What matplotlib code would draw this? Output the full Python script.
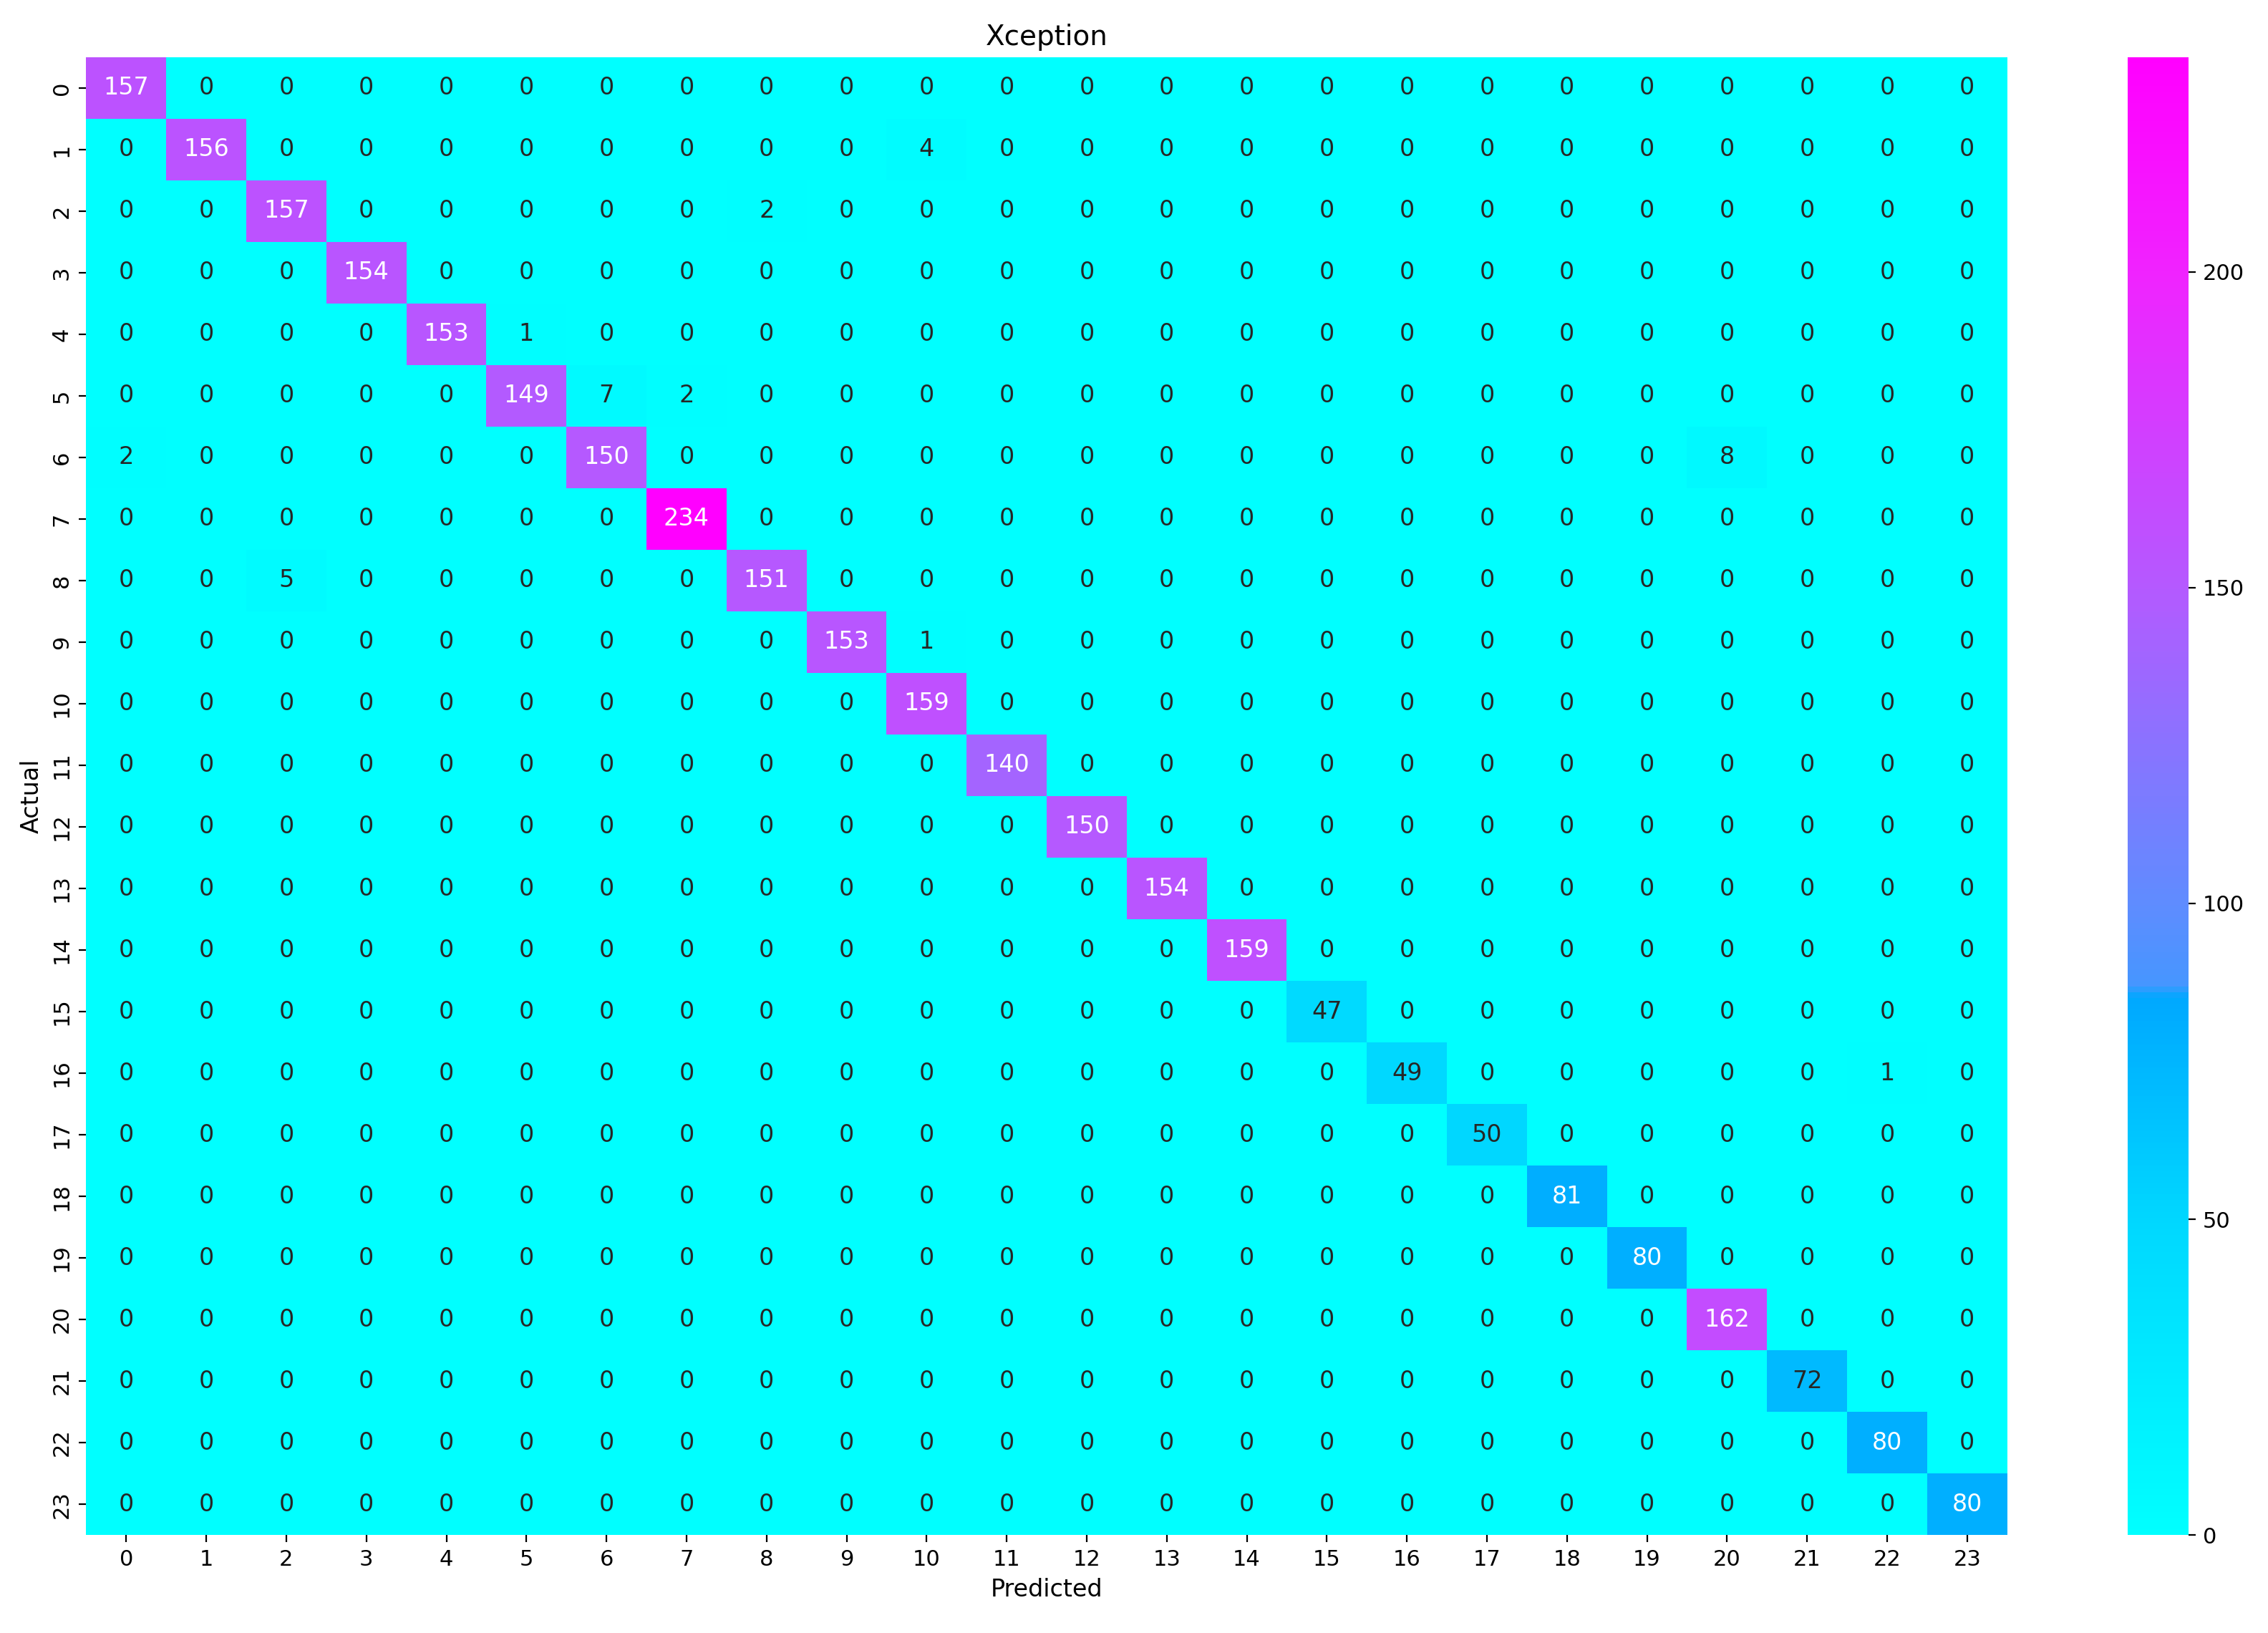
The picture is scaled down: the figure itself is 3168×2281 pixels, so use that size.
import numpy as np
import matplotlib
matplotlib.use("Agg")
import matplotlib.pyplot as plt
import seaborn as sns
from matplotlib.colors import LinearSegmentedColormap

labels = list(range(24))
diag = [157,156,157,154,153,149,150,234,151,153,159,140,150,154,159,47,49,50,81,80,162,72,80,80]
off = [(1,10,4),(2,8,2),(4,5,1),(5,6,7),(5,7,2),(6,0,2),(6,20,8),(8,2,5),(9,10,1),(16,22,1)]

cm = np.zeros((24,24), dtype=int)
for i, v in enumerate(diag):
    cm[i, i] = v
for r, c, v in off:
    cm[r, c] = v

vmax = 234.0
stops = [(0, (0,255,255)), (50, (0,215,255)), (85, (0,168,255)), (87, (70,150,255)),
         (100, (95,140,255)), (150, (180,90,255)), (200, (240,35,255)), (234, (255,0,255))]
cmap = LinearSegmentedColormap.from_list("custom", [(v/vmax, tuple(c/255 for c in col)) for v, col in stops])

fig = plt.figure(figsize=(15.84, 11.405), dpi=200)
ax = fig.add_axes([0.038, 0.06, 0.847, 0.905])
cax = fig.add_axes([0.938, 0.06, 0.027, 0.905])
sns.heatmap(cm, annot=True, fmt="d", cmap=cmap, vmin=0, vmax=vmax, ax=ax, cbar_ax=cax,
            annot_kws={"fontsize": 12}, xticklabels=labels, yticklabels=labels)
ax.set_title("Xception", fontsize=14)
ax.set_xlabel("Predicted", fontsize=12)
ax.set_ylabel("Actual", fontsize=12)
ax.tick_params(labelsize=11)
cax.tick_params(labelsize=11)
fig.savefig("out.png")
